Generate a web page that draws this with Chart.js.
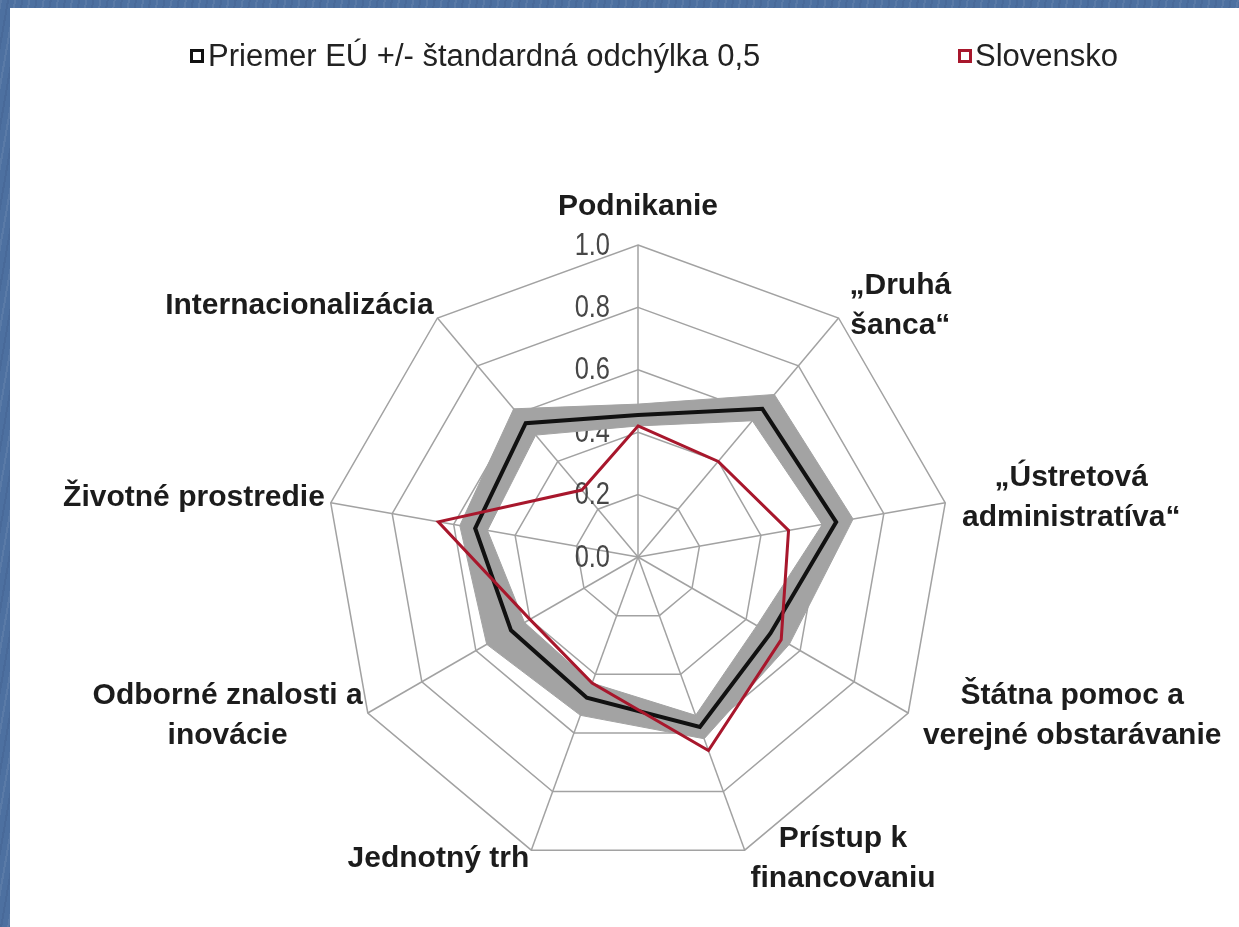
<!DOCTYPE html>
<html>
<head>
<meta charset="utf-8">
<script src="https://cdn.jsdelivr.net/npm/chart.js@4.4.1/dist/chart.umd.min.js"></script>
<style>
  html, body { margin: 0; padding: 0; }
  body {
    width: 1239px; height: 927px; overflow: hidden; position: relative;
    background-color: #4d70a0;
    background-image: repeating-linear-gradient(100deg, rgba(255,255,255,0.07) 0 2px, rgba(0,0,0,0) 2px 7px, rgba(0,0,40,0.06) 7px 9px, rgba(0,0,0,0) 9px 14px);
  }
  #panel { position: absolute; left: 10px; top: 8px; right: 0; bottom: 0; background: #ffffff; }
  #wrap { position: absolute; left: 0; top: 0; width: 1239px; height: 927px; }
  .lg { position: absolute; font-family: "Liberation Sans", Arial, sans-serif; font-size: 31px; line-height: 30px; color: #222; white-space: nowrap; }
  .box { position: absolute; width: 14px; height: 14px; box-sizing: border-box; background: #fff; }
</style>
</head>
<body>
<div id="panel"></div>
<div id="wrap"><canvas id="c"></canvas></div>
<div class="box" style="left:190px; top:49px; border:3px solid #111;"></div>
<div class="lg" id="lg1" style="left:208px; top:41px;"></div>
<div class="box" style="left:958px; top:49px; border:3px solid #a8172c;"></div>
<div class="lg" id="lg2" style="left:975px; top:41px;"></div>
<script>
// ---- data ----
const categories = [
  ['Podnikanie'],
  ['\u201EDruhá', 'šanca\u201C'],
  ['\u201EÚstretová', 'administratíva\u201C'],
  ['Štátna pomoc a', 'verejné obstarávanie'],
  ['Prístup k', 'financovaniu'],
  ['Jednotný trh'],
  ['Odborné znalosti a', 'inovácie'],
  ['Životné prostredie'],
  ['Internacionalizácia']
];
const seriesNames = ['Priemer EÚ +/- štandardná odchýlka 0,5', 'Slovensko'];
const euUpper  = [0.49, 0.68, 0.70, 0.56, 0.62, 0.54, 0.56, 0.58, 0.62];
const euMean   = [0.455, 0.62, 0.645, 0.49, 0.58, 0.48, 0.47, 0.53, 0.56];
const euLower  = [0.42, 0.57, 0.60, 0.44, 0.54, 0.43, 0.42, 0.49, 0.51];
const slovakia = [0.42, 0.40, 0.49, 0.53, 0.66, 0.43, 0.40, 0.65, 0.28];
const tickValues = [0.0, 0.2, 0.4, 0.6, 0.8, 1.0];
const tickLabels = ['0.0', '0.2', '0.4', '0.6', '0.8', '1.0'];

document.getElementById('lg1').textContent = seriesNames[0];
document.getElementById('lg2').textContent = seriesNames[1];

const FONT = '"Liberation Sans", Arial, sans-serif';

const labelPlugin = {
  id: 'customLabels',
  beforeDatasetsDraw(chart) {
    const s = chart.scales.r;
    const ctx = chart.ctx;
    ctx.save();
    ctx.font = '31px ' + FONT;
    ctx.fillStyle = '#474747';
    ctx.textAlign = 'right';
    ctx.textBaseline = 'middle';
    tickValues.forEach((v, k) => {
      const d = s.getDistanceFromCenterForValue(v);
      ctx.save();
      ctx.translate(s.xCenter - 28, s.yCenter - d + 1);
      ctx.scale(0.82, 1);
      ctx.fillText(tickLabels[k], 0, 0);
      ctx.restore();
    });
    ctx.restore();
  },
  afterDraw(chart) {
    const s = chart.scales.r;
    const ctx = chart.ctx;
    const L = 40;
    ctx.save();
    ctx.font = 'bold 30px ' + FONT;
    ctx.fillStyle = '#1c1c1c';
    ctx.textAlign = 'center';
    ctx.textBaseline = 'middle';
    categories.forEach((lines, i) => {
      const ang = s.getIndexAngle(i);
      const p = s.getPointPosition(i, s.drawingArea);
      const sn = Math.sin(ang);
      const cs = Math.cos(ang);
      const w = Math.max(...lines.map(t => ctx.measureText(t).width));
      const n = lines.length;
      let cx, cy;
      if (Math.abs(sn) < 0.01) {
        cx = p.x;
        cy = p.y - 38 - (n - 1) * L / 2;
      } else if (sn > 0) {
        cx = p.x + 17 * sn + w / 2;
        cy = p.y - 3 - 12 * cs;
      } else {
        cx = p.x + 6 * sn - w / 2;
        cy = p.y - 3 - 12 * cs;
      }
      lines.forEach((t, k) => {
        ctx.fillText(t, cx, cy + (k - (n - 1) / 2) * L);
      });
    });
    ctx.restore();
  }
};

const ctx = document.getElementById('c');
new Chart(ctx, {
  type: 'radar',
  data: {
    labels: categories.map(l => l.join(' ')),
    datasets: [
      { label: seriesNames[1], data: slovakia, borderColor: '#a8172c', borderWidth: 3, fill: false, pointRadius: 0, pointHoverRadius: 0, tension: 0 },
      { label: seriesNames[0], data: euMean, borderColor: '#111111', borderWidth: 4, fill: false, pointRadius: 0, pointHoverRadius: 0, tension: 0 },
      { label: 'upper', data: euUpper, borderColor: '#a3a3a3', borderWidth: 1, backgroundColor: '#a3a3a3', fill: '+1', pointRadius: 0, pointHoverRadius: 0, tension: 0 },
      { label: 'lower', data: euLower, borderColor: '#a3a3a3', borderWidth: 1, fill: false, pointRadius: 0, pointHoverRadius: 0, tension: 0 }
    ]
  },
  options: {
    responsive: true,
    maintainAspectRatio: false,
    animation: false,
    events: [],
    layout: { padding: { top: 245, bottom: 58, left: 100, right: 63 } },
    plugins: { legend: { display: false }, tooltip: { enabled: false } },
    scales: {
      r: {
        min: 0, max: 1,
        ticks: { stepSize: 0.2, display: false },
        grid: { color: '#a2a2a2', lineWidth: 1.5, circular: false },
        angleLines: { color: '#a2a2a2', lineWidth: 1.5 },
        pointLabels: { display: false }
      }
    }
  },
  plugins: [labelPlugin]
});
</script>
</body>
</html>
